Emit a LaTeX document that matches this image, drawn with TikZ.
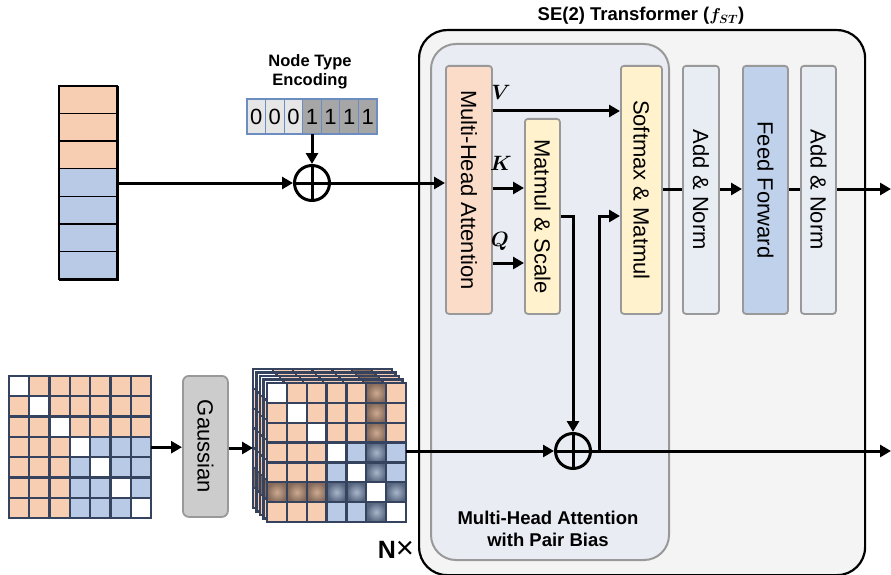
\documentclass[tikz,border=0pt]{standalone}
\usepackage{fontspec}
\setmainfont{Liberation Sans}
\usepackage{bm}
\usetikzlibrary{arrows.meta}
\definecolor{orng}{HTML}{F8CEB2}
\definecolor{blu}{HTML}{B8CAE6}
\definecolor{matb}{HTML}{36435E}
\definecolor{boxgray}{HTML}{999999}
\definecolor{outerfill}{HTML}{F4F4F4}
\definecolor{innerfill}{HTML}{E9EDF3}
\definecolor{mhafill}{HTML}{FADCC8}
\definecolor{yel}{HTML}{FFF2CC}
\definecolor{anfill}{HTML}{E8ECF3}
\definecolor{fffill}{HTML}{C0D1EB}
\definecolor{gfill}{HTML}{CCCCCC}
\definecolor{encl}{HTML}{E6E6E6}
\definecolor{encd}{HTML}{A6A6A6}
\definecolor{encb}{HTML}{6C8EBF}
\definecolor{obl}{HTML}{CDAA90}
\definecolor{obd}{HTML}{85695A}
\definecolor{bbl}{HTML}{A8B6CA}
\definecolor{bbd}{HTML}{56657E}
\newcommand\drawpairmat[4]{%
  \foreach \i in {0,...,6}{\foreach \j in {0,...,6}{%
    \pgfmathtruncatemacro\t{ifthenelse(\i==\j,0,ifthenelse(or(\i<3,\j<3),1,2))}%
    \pgfmathtruncatemacro\s{ifthenelse(and(#4==1,and(\t>0,or(\i==5,\j==5))),\t+2,\t)}%
    \ifcase\s
      \filldraw[cell,fill=white] ({#1+\j*#3},{#2+\i*#3}) rectangle ++(#3,#3);
    \or
      \filldraw[cell,fill=orng] ({#1+\j*#3},{#2+\i*#3}) rectangle ++(#3,#3);
    \or
      \filldraw[cell,fill=blu] ({#1+\j*#3},{#2+\i*#3}) rectangle ++(#3,#3);
    \or
      \shadedraw[cell,inner color=obl,outer color=obd] ({#1+\j*#3},{#2+\i*#3}) rectangle ++(#3,#3);
    \or
      \shadedraw[cell,inner color=bbl,outer color=bbd] ({#1+\j*#3},{#2+\i*#3}) rectangle ++(#3,#3);
    \fi
  }}%
}
\tikzset{
  cell/.style={draw=matb,line width=2.3pt},
  blk/.style={draw=boxgray,line width=1.8pt,rounded corners=3pt,inner sep=0pt,anchor=north west},
  vtext/.style={rotate=-90,font=\fontsize{22}{24}\selectfont,inner sep=0pt},
  arr/.style={line width=3pt,-{Triangle[length=11pt,width=12pt]}},
  ln/.style={line width=3pt},
  plus/.style={circle,draw,line width=3pt,minimum size=35pt,inner sep=0pt},
  lbl/.style={font=\bfseries\fontsize{16.5}{19}\selectfont,align=center},
  qkv/.style={font=\fontsize{21}{22}\selectfont,inner sep=0pt},
}
\begin{document}
\begin{tikzpicture}[x=1pt,y=-1pt]
\useasboundingbox (0,0) rectangle (891,575);
% containers
\node[draw,line width=2.2pt,fill=outerfill,rounded corners=28pt,minimum width=446pt,minimum height=545pt,anchor=north west,inner sep=0pt] (outer) at (418,29) {};
\node[font=\bfseries\fontsize{18.5}{20}\selectfont] (title) at (641,16) {SE(2) Transformer ($\bm{f_{ST}}$)};
\node[draw=boxgray,line width=2pt,fill=innerfill,rounded corners=25pt,minimum width=238pt,minimum height=516pt,anchor=north west,inner sep=0pt] (inner) at (430,43) {};
\node[lbl,font=\bfseries\fontsize{18.5}{22}\selectfont] (mhalbl) at (548,529) {Multi-Head Attention\\with Pair Bias};
% token stack
\node[draw,line width=1.5pt,minimum width=58pt,minimum height=193pt,anchor=north west,inner sep=0pt] (stack) at (59,86) {};
\foreach \r in {0,...,6}{
  \pgfmathsetmacro\yy{86+\r*193/7}
  \ifnum\r<3 \def\cc{orng}\else\def\cc{blu}\fi
  \filldraw[fill=\cc,draw=black,line width=1.5pt] (59,\yy) rectangle ++(58,{193/7});
}
% encoding
\node[lbl] (enclbl) at (310,72) {Node Type\\Encoding};
\node[minimum width=130pt,minimum height=35pt,anchor=north west,inner sep=0pt] (enc) at (247,99) {};
\foreach \k/\d in {0/0,1/0,2/0,3/1,4/1,5/1,6/1}{
  \ifnum\d=0 \def\cc{encl}\else\def\cc{encd}\fi
  \filldraw[fill=\cc,draw=encb,line width=1.2pt] ({247+\k*130/7},99) rectangle ++({130/7},35);
  \node[font=\fontsize{22}{23}\selectfont,inner sep=0pt] at ({247+(\k+0.5)*130/7},117) {\d};
}
\node[plus] (p1) at (312,183) {};
\draw[ln] (p1.north) -- (p1.south) (p1.west) -- (p1.east);
% transformer blocks
\node[blk,fill=mhafill,minimum width=46pt,minimum height=248pt] (mha) at (445,65) {};
\node[vtext] (mhat) at (mha.center) {Multi-Head Attention};
\node[blk,fill=yel,minimum width=35pt,minimum height=195pt] (mms) at (524,118) {};
\node[vtext] (mmst) at (mms.center) {Matmul \& Scale};
\node[blk,fill=yel,minimum width=41pt,minimum height=248pt] (smm) at (620,65) {};
\node[vtext] (smmt) at (smm.center) {Softmax \& Matmul};
\node[blk,fill=anfill,minimum width=36pt,minimum height=248pt] (an1) at (682,65) {};
\node[vtext] (an1t) at (an1.center) {Add \& Norm};
\node[blk,fill=fffill,minimum width=45pt,minimum height=248pt] (ff) at (742,65) {};
\node[vtext] (fft) at (ff.center) {Feed Forward};
\node[blk,fill=anfill,minimum width=35pt,minimum height=248pt] (an2) at (800,65) {};
\node[vtext] (an2t) at (an2.center) {Add \& Norm};
\node[plus] (p2) at (573,451) {};
\draw[ln] (p2.north) -- (p2.south) (p2.west) -- (p2.east);
% labels
\node[qkv] (lv) at (501,92) {$\bm{V}$};
\node[qkv] (lk) at (501,163) {$\bm{K}$};
\node[qkv] (lq) at (500,241) {$\bm{Q}$};
\coordinate (yV) at (0,111);
\coordinate (yK) at (0,188);
\coordinate (yQ) at (0,263);
\coordinate (yS) at (0,216);
\coordinate (yG) at (0,448);
\coordinate (br) at (599,451);
\coordinate (out1) at (891,189);
\coordinate (out2) at (891,451);
% pair matrices
\node[minimum width=142pt,minimum height=142pt,anchor=north west,inner sep=0pt] (lmat) at (9,376) {};
\drawpairmat{9}{376}{142/7}{0}
\node[blk,fill=gfill,rounded corners=6pt,minimum width=45pt,minimum height=141pt] (gauss) at (182,375) {};
\node[vtext] (gausst) at (gauss.center) {Gaussian};
\node[minimum width=153pt,minimum height=152pt,anchor=north west,inner sep=0pt] (pair) at (253,369) {};
\foreach \L in {4,3,2,1,0}{
  \drawpairmat{267-3.5*\L}{383-3.5*\L}{139/7}{1}
}
\node[inner sep=0pt,anchor=base] (nx) at (396,558) {\fontsize{25}{26}\selectfont\textbf{N}\fontsize{31}{31}\selectfont ×};
% connectors
\draw[arr] (stack.east |- p1) -- (p1.west);
\draw[arr] (enc.south -| p1) -- (p1.north);
\draw[arr] (p1.east) -- (p1 -| mha.west);
\draw[arr] (mha.east |- yV) -- (smm.west |- yV);
\draw[arr] (mha.east |- yK) -- (mms.west |- yK);
\draw[arr] (mha.east |- yQ) -- (mms.west |- yQ);
\draw[arr] (mms.east |- yS) -| (p2.north);
\draw[arr] (br) |- (smm.west |- yS);
\draw[ln] (smm.east |- out1) -- (an1.west |- out1);
\draw[arr] (an1.east |- out1) -- (ff.west |- out1);
\draw[ln] (ff.east |- out1) -- (an2.west |- out1);
\draw[arr] (an2.east |- out1) -- (out1);
\draw[arr] (lmat.east) -- (gauss.west |- lmat.east);
\draw[arr] (gauss.east |- yG) -- (pair.west |- yG);
\draw[arr] (pair.east |- p2) -- (p2.west);
\draw[arr] (p2.east) -- (out2);
\end{tikzpicture}
\end{document}
